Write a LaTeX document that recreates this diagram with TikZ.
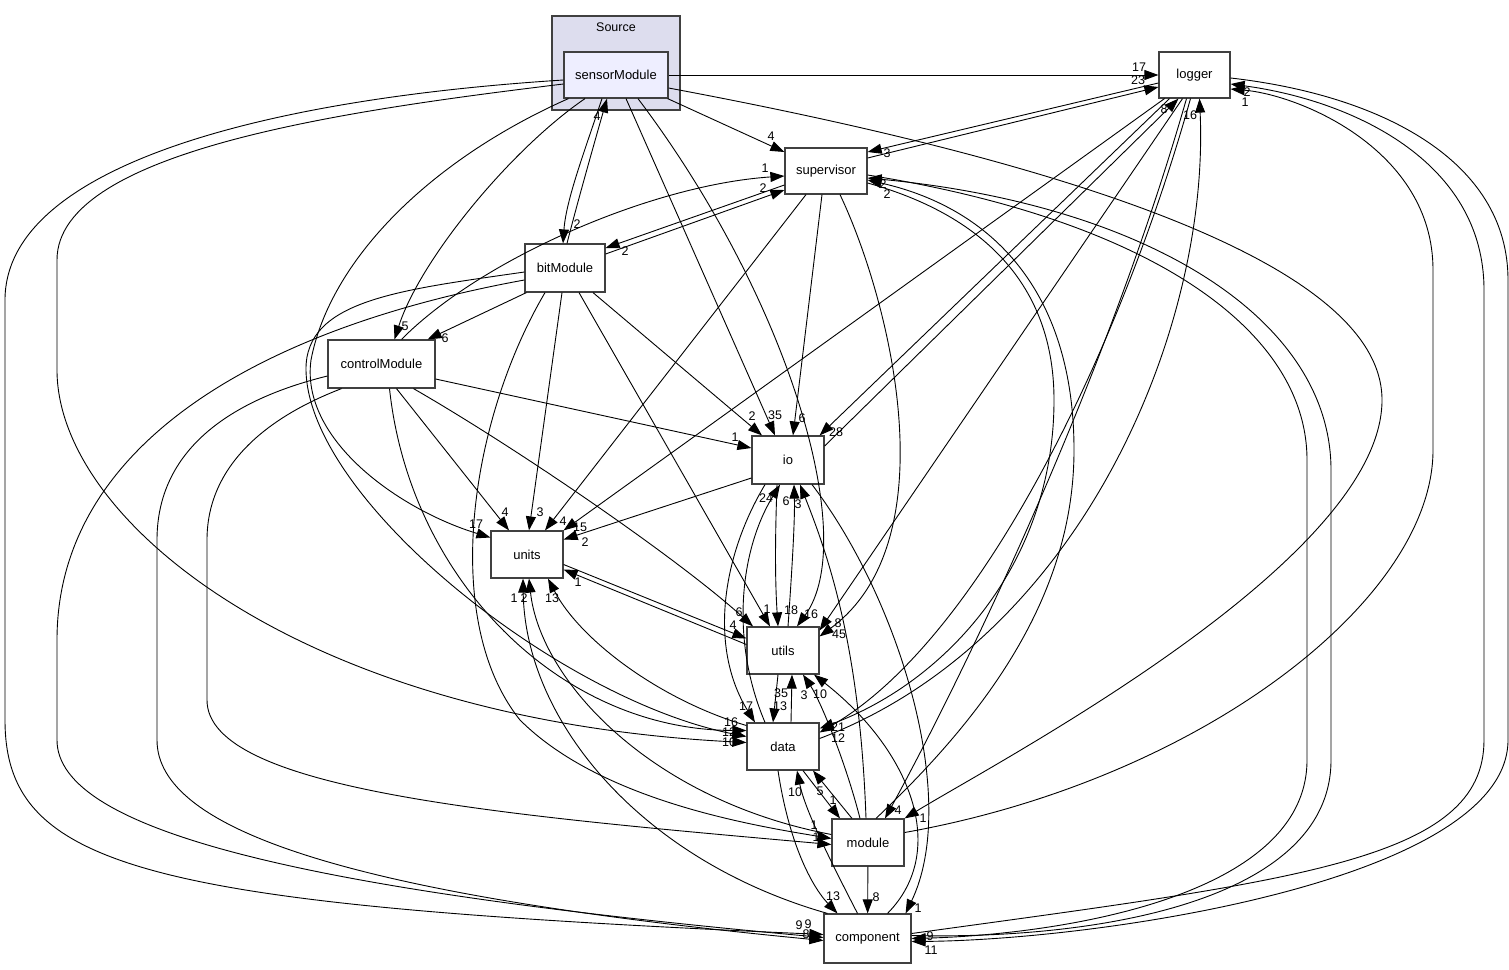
\documentclass[tikz,border=0pt]{standalone}
\usepackage{fontspec}
\setmainfont{Liberation Sans}
\usetikzlibrary{arrows.meta}
\definecolor{clusterfill}{HTML}{DDDDEE}
\definecolor{innerfill}{HTML}{EEEEFF}
\definecolor{boxline}{HTML}{404040}
\tikzset{
  dirbox/.style={draw=boxline, line width=1.2pt, fill=white, inner sep=0pt, minimum height=47pt, font=\fontsize{13}{15}\selectfont},
  dep/.style={-{Triangle[length=14pt,width=10pt]}, line width=0.9pt},
  cnt/.style={inner sep=0pt, font=\fontsize{12.5}{14}\selectfont},
}
\begin{document}
\begin{tikzpicture}[x=1pt, y=-1pt]
    \useasboundingbox (0,0) rectangle (1509,969);

    % Cartella Source
    \draw[draw=boxline, fill=clusterfill, line width=1.2pt] (552,16) rectangle (680,110);
    \node[cnt] (srcTitle) at (616,27) {Source};

    % Directory
    \node[dirbox, fill=innerfill, minimum width=104pt, minimum height=46pt] (sensor) at (616,75) {sensorModule};
    \node[dirbox, minimum width=71pt, minimum height=46pt] (logger) at (1194.5,75) {logger};
    \node[dirbox, minimum width=82pt, minimum height=46pt] (supervisor) at (826,171) {supervisor};
    \node[dirbox, minimum width=80pt, minimum height=48pt] (bit) at (565,268) {bitModule};
    \node[dirbox, minimum width=107pt, minimum height=48pt] (control) at (381.5,364) {controlModule};
    \node[dirbox, minimum width=72pt, minimum height=48pt] (io) at (788,460) {io};
    \node[dirbox, minimum width=72pt] (units) at (527,554.5) {units};
    \node[dirbox, minimum width=72pt] (utils) at (783,650.5) {utils};
    \node[dirbox, minimum width=72pt] (data) at (783,746.5) {data};
    \node[dirbox, minimum width=72pt] (module) at (868,842.5) {module};
    \node[dirbox, minimum width=87pt, minimum height=49pt] (component) at (867.5,938.5) {component};

    % Dipendenze di sensorModule
    \draw[dep] (sensor) -- (logger);
    \node[cnt] (nSenLog) at (1139,67) {17};
    \draw[dep] (sensor) -- (supervisor);
    \node[cnt] (nSenSup) at (771,136) {4};
    \draw[dep] ([xshift=-14pt]sensor.south) .. controls (585,150) and (566,200) .. ([xshift=-2pt]bit.north);
    \node[cnt] (nSenBit) at (577,224) {2};
    \draw[dep] ([xshift=2pt]bit.north) .. controls (578,200) and (598,130) .. ([xshift=-9pt]sensor.south);
    \node[cnt] (nBitSen) at (597,116) {4};
    \draw[dep] ([xshift=-31pt]sensor.south) .. controls (510,150) and (420,260) .. ([xshift=13pt]control.north);
    \node[cnt] (nSenCon) at (405,326) {5};
    \draw[dep] ([xshift=5pt]sensor.south west) .. controls (430,160) and (330,260) .. (311,360)
        .. controls (300,440) and (400,510) .. ([yshift=17pt]units.west);
    \node[cnt] (nSenUni) at (476,524) {17};
    \draw[dep] ([yshift=-9pt]sensor.west) .. controls (350,110) and (57,150) .. (57,260) -- (57,370)
        .. controls (57,520) and (300,720) .. ([yshift=4pt]data.west);
    \node[cnt] (nSenDat) at (729,742) {10};
    \draw[dep] ([yshift=-5pt]sensor.west) .. controls (250,100) and (5,170) .. (5,300) -- (5,720)
        .. controls (5,870) and (150,905) .. ([yshift=4pt]component.west);
    \node[cnt] (nSenCom) at (799,925) {9};
    \draw[dep] ([xshift=10pt]sensor.south) -- ([xshift=-13pt]io.north);
    \node[cnt] (nSenIo) at (775,415) {35};
    \draw[dep] ([xshift=22pt]sensor.south) .. controls (790,300) and (860,540) .. ([xshift=14pt]utils.north);
    \node[cnt] (nSenUti) at (811,614) {16};
    \draw[dep] ([yshift=-13pt]sensor.east) .. controls (1000,150) and (1382,250) .. (1382,400)
        .. controls (1382,560) and (1000,760) .. (module.north east);
    \node[cnt] (nSenMod) at (923,818) {1};

    % supervisor e logger
    \draw[dep] ([yshift=13pt]supervisor.east) -- ([yshift=-12pt]logger.west);
    \node[cnt] (nSupLog) at (1138,80) {23};
    \draw[dep] ([yshift=-8pt]logger.west) -- ([yshift=19pt]supervisor.east);
    \node[cnt] (nLogSup) at (887,153) {3};
    \draw[dep] ([xshift=20pt]control.north) .. controls (480,260) and (650,185) .. ([yshift=-5pt]supervisor.west);
    \node[cnt] (nConSup) at (765,168) {1};
    \draw[dep] ([yshift=14pt]bit.east) -- ([yshift=-19pt]supervisor.west);
    \node[cnt] (nBitSup) at (763,188) {2};
    \draw[dep] ([yshift=-14pt]supervisor.west) -- ([yshift=20pt]bit.east);
    \node[cnt] (nSupBit) at (625,251) {2};
    \draw[dep] ([xshift=2pt]bit.south west) -- ([xshift=-8pt]control.north east);
    \node[cnt] (nBitCon) at (445,338) {6};

    % verso units
    \draw[dep] ([xshift=15pt]control.south) -- ([xshift=-18pt]units.north);
    \node[cnt] (nConUni) at (505,512) {4};
    \draw[dep] ([xshift=-3pt]bit.south) -- ([xshift=2pt]units.north);
    \node[cnt] (nBitUni) at (540,512) {3};
    \draw[dep] ([xshift=-20pt]supervisor.south) -- ([xshift=18pt]units.north);
    \node[cnt] (nSupUni) at (563,521) {4};
    \draw[dep] ([xshift=-30pt]logger.south) -- (units.north east);
    \node[cnt] (nLogUni) at (580,527) {15};
    \draw[dep] ([yshift=-18pt]io.west) -- ([yshift=15pt]units.east);
    \node[cnt] (nIoUni) at (585,542) {2};

    % verso io
    \draw[dep] ([yshift=-15pt]control.east) -- ([yshift=12pt]io.west);
    \node[cnt] (nConIo) at (735,437) {1};
    \draw[dep] ([xshift=28pt]bit.south) -- ([xshift=-26pt]io.north);
    \node[cnt] (nBitIo) at (752,416) {2};
    \draw[dep] ([xshift=-4pt]supervisor.south) -- ([xshift=5pt]io.north);
    \node[cnt] (nSupIo) at (802,418) {6};
    \draw[dep] ([xshift=-25pt]logger.south) -- ([xshift=-5pt]io.north east);
    \node[cnt] (nLogIo) at (836,432) {28};
    \draw[dep] ([yshift=14pt]io.east) -- ([xshift=-16pt]logger.south);
    \node[cnt] (nIoLog) at (1164,109) {8};

    % verso utils
    \draw[dep] ([xshift=32pt]control.south) .. controls (520,450) and (680,560) .. ([xshift=-30pt]utils.north);
    \node[cnt] (nConUti) at (739,612) {6};
    \draw[dep] ([xshift=14pt]bit.south) -- ([xshift=-13pt]utils.north);
    \node[cnt] (nBitUti) at (767,609) {1};
    \draw[dep] ([xshift=-11pt]io.south) .. controls (775,540) and (775,580) .. ([xshift=-5pt]utils.north);
    \node[cnt] (nIoUti) at (791,610) {18};
    \draw[dep] ([xshift=5pt]utils.north) .. controls (792,570) and (795,520) .. ([xshift=6pt]io.south);
    \node[cnt] (nUtiIo) at (786,501) {6};
    \draw[dep] ([xshift=-12pt]logger.south) -- ([yshift=-4pt]utils.north east);
    \node[cnt] (nLogUti) at (838,623) {8};
    \draw[dep] ([xshift=14pt]supervisor.south) .. controls (890,300) and (950,540) .. ([yshift=-10pt]utils.north east);
    \node[cnt] (nSupUti) at (839,634) {45};
    \draw[dep] ([yshift=-10pt]units.east) -- ([yshift=12pt]utils.west);
    \node[cnt] (nUniUti) at (733,625) {4};
    \draw[dep] ([yshift=6pt]utils.west) -- ([yshift=-15pt]units.east);
    \node[cnt] (nUtiUni) at (578,582) {1};

    % utils, data, io
    \draw[dep] ([xshift=-5pt]utils.south) -- ([xshift=-10pt]data.north);
    \node[cnt] (nUtiDat) at (780,706) {13};
    \draw[dep] ([xshift=8pt]data.north) -- ([xshift=9pt]utils.south);
    \node[cnt] (nDatUti) at (781,693) {35};
    \draw[dep] ([xshift=-8pt]module.north) .. controls (845,760) and (820,700) .. ([xshift=20pt]utils.south);
    \node[cnt] (nModUti) at (804,695) {3};
    \draw[dep] ([xshift=-2pt]module.north) .. controls (860,650) and (830,560) .. ([xshift=12pt]io.south);
    \node[cnt] (nModIo) at (798,504) {3};
    \draw[dep] ([xshift=20pt]component.north) .. controls (950,850) and (910,750) .. ([xshift=31pt]utils.south);
    \node[cnt] (nComUti) at (820,694) {10};
    \draw[dep] ([xshift=24pt]io.south) .. controls (900,600) and (960,800) .. ([xshift=-6pt]component.north east);
    \node[cnt] (nIoCom) at (918,908) {1};
    \draw[dep] ([xshift=-23pt]io.south) .. controls (720,560) and (710,650) .. ([xshift=-28pt]data.north);
    \node[cnt] (nIoDat) at (746,706) {17};
    \draw[dep] ([xshift=-18pt]data.north) .. controls (730,640) and (740,550) .. ([xshift=-8pt]io.south);
    \node[cnt] (nDatIo) at (766,498) {24};

    % logger e supervisor verso il basso
    \draw[dep] ([xshift=-8pt]logger.south) .. controls (1100,400) and (950,700) .. ([xshift=17pt]module.north);
    \node[cnt] (nLogMod) at (898,810) {4};
    \draw[dep] ([xshift=-4pt]logger.south) .. controls (1120,350) and (980,640) .. ([yshift=14pt]data.east);
    \node[cnt] (nLogDat) at (838,738) {12};
    \draw[dep] ([yshift=8pt]data.east) .. controls (1080,640) and (1210,330) .. ([xshift=5pt]logger.south);
    \node[cnt] (nDatLog) at (1190,115) {16};
    \draw[dep] ([yshift=-12pt]supervisor.east) .. controls (1000,220) and (1054,300) .. (1054,400)
        .. controls (1054,560) and (950,680) .. ([yshift=18pt]data.east);
    \node[cnt] (nSupDat) at (838,727) {21};
    \draw[dep] ([xshift=8pt]module.north) .. controls (980,720) and (1074,600) .. (1074,450)
        .. controls (1074,300) and (1000,210) .. ([yshift=-9pt]supervisor.east);
    \node[cnt] (nModSup) at (887,194) {2};
    \draw[dep] ([yshift=-4pt]supervisor.east) .. controls (1150,220) and (1307,330) .. (1307,460) -- (1307,760)
        .. controls (1307,900) and (1050,935) .. (component.east);
    \node[cnt] (nSupCom) at (930,936) {9};
    \draw[dep] ([yshift=3pt]component.east) .. controls (1100,940) and (1331,900) .. (1331,760) -- (1331,470)
        .. controls (1331,320) and (1150,205) .. ([yshift=-7pt]supervisor.east);
    \node[cnt] (nComSup) at (883,184) {2};

    % archi a destra
    \draw[dep] ([yshift=10pt]module.east) .. controls (1200,780) and (1433,600) .. (1433,450) -- (1433,270)
        .. controls (1433,150) and (1300,95) .. ([yshift=-14pt]logger.east);
    \node[cnt] (nModLog) at (1247,92) {2};
    \draw[dep] ([yshift=5pt]component.east) .. controls (1300,880) and (1484,860) .. (1484,740) -- (1484,290)
        .. controls (1484,160) and (1350,100) .. ([yshift=-9pt]logger.east);
    \node[cnt] (nComLog) at (1245,102) {1};
    \draw[dep] ([yshift=-3pt]logger.east) .. controls (1380,95) and (1508,160) .. (1508,280) -- (1508,740)
        .. controls (1508,880) and (1100,940) .. ([yshift=-3pt]component.east);
    \node[cnt] (nLogCom) at (931,950) {11};

    % data, module, component
    \draw[dep] ([xshift=20pt]data.south) -- ([xshift=-28pt]module.north);
    \node[cnt] (nDatMod) at (833,800) {1};
    \draw[dep] ([xshift=-16pt]module.north) -- ([xshift=30pt]data.south);
    \node[cnt] (nModDat) at (820,791) {5};
    \draw[dep] ([xshift=-10pt]component.north) .. controls (830,860) and (805,810) .. ([xshift=14pt]data.south);
    \node[cnt] (nComDat) at (795,792) {10};
    \draw[dep] ([xshift=-5pt]data.south) .. controls (790,850) and (815,890) .. ([xshift=-30pt]component.north);
    \node[cnt] (nDatCom) at (833,896) {13};
    \draw[dep] (module) -- (component);
    \node[cnt] (nModCom) at (876,897) {8};

    % verso units dal basso
    \draw[dep] ([yshift=8pt]module.west) .. controls (650,800) and (540,680) .. ([xshift=2pt]units.south);
    \node[cnt] (nModUni) at (524,598) {2};
    \draw[dep] ([xshift=4pt]component.north west) .. controls (640,860) and (525,720) .. ([xshift=-4pt]units.south);
    \node[cnt] (nComUni) at (514,598) {1};
    \draw[dep] ([yshift=21pt]data.west) .. controls (660,700) and (580,640) .. ([xshift=21pt]units.south);
    \node[cnt] (nDatUni) at (552,598) {13};

    % bitModule e controlModule verso il basso
    \draw[dep] ([xshift=8pt]control.south) .. controls (410,580) and (560,730) .. ([yshift=16pt]data.west);
    \node[cnt] (nConDat) at (731,722) {16};
    \draw[dep] ([yshift=-4pt]bit.west) .. controls (400,290) and (305,300) .. (306,370)
        .. controls (308,500) and (560,700) .. ([yshift=10pt]data.west);
    \node[cnt] (nBitDat) at (729,732) {12};
    \draw[dep] ([yshift=-12pt]bit.west) .. controls (250,330) and (57,450) .. (57,640) -- (57,740)
        .. controls (57,830) and (300,890) .. ([yshift=1pt]component.west);
    \node[cnt] (nBitCom) at (808,924) {9};
    \draw[dep] ([yshift=-12pt]control.west) .. controls (230,400) and (157,450) .. (157,540) -- (157,740)
        .. controls (157,830) and (350,895) .. ([yshift=-2pt]component.west);
    \node[cnt] (nConCom) at (806,934) {8};
    \draw[dep] ([xshift=-40pt]control.south) .. controls (260,420) and (207,470) .. (207,540) -- (207,700)
        .. controls (207,790) and (500,815) .. ([yshift=-2pt]module.west);
    \node[cnt] (nConMod) at (816,837) {1};
    \draw[dep] ([xshift=-20pt]bit.south) .. controls (470,420) and (440,620) .. (520,720)
        .. controls (600,800) and (750,825) .. ([yshift=4pt]module.west);
    \node[cnt] (nBitMod) at (814,825) {1};
\end{tikzpicture}
\end{document}
